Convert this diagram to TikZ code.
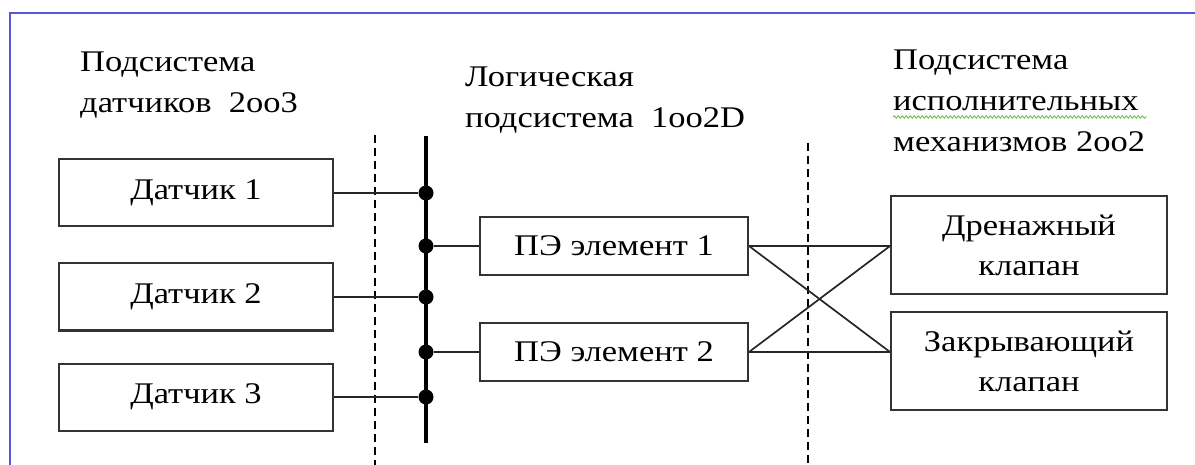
\documentclass[tikz,border=0pt]{standalone}
\usepackage{fontspec}
\setmainfont[FakeStretch=1.15]{Liberation Serif}
\usetikzlibrary{positioning,decorations.pathmorphing}
\definecolor{framecol}{RGB}{85,85,225}
\definecolor{spellcol}{RGB}{110,190,90}

\begin{document}
\begin{tikzpicture}[x=1pt,y=-1pt,
  box/.style={draw=black!80,line width=2pt,align=center,inner sep=0pt,
    font=\fontsize{30}{40}\selectfont},
  sensor/.style={box,minimum width=274pt,minimum height=67pt},
  pe/.style={box,minimum width=268pt,minimum height=58pt},
  valve/.style={box,minimum width=276pt,minimum height=98pt},
  head/.style={anchor=base west,align=left,inner sep=0pt,
    font=\fontsize{30}{41}\selectfont},
  wire/.style={line width=1.7pt,draw=black!85},
  bus/.style={line width=3.8pt},
  sep/.style={line width=1.6pt,dash pattern=on 8pt off 5pt},
  dot/.style={circle,fill=black,inner sep=0pt,minimum size=15pt}]
  \useasboundingbox (0,0) rectangle (1195,465);
  \draw[framecol,line width=2.5pt] (10,470) |- (1200,13);

  % headings (anchored on the last line)
  \node[head] (lhead) at (80,113) {Подсистема\\датчиков~~2oo3};
  \node[head] (mhead) at (465,128) {Логическая\\подсистема~~1oo2D};
  \node[head] (rhead) at (893,152) {Подсистема\\исполнительных\\механизмов 2oo2};
  \draw[spellcol,line width=0.9pt,decorate,
    decoration={snake,amplitude=1.3pt,segment length=4pt}] (893,117) -- (1147,117);

  % boxes
  \node[sensor] (s1) at (196,193) {Датчик 1};
  \node[sensor,below=35pt of s1] (s2) {Датчик 2};
  \node[sensor,below=31pt of s2] (s3) {Датчик 3};
  \node[pe] (pe1) at (614,246) {ПЭ элемент 1};
  \node[pe,below=46pt of pe1] (pe2) {ПЭ элемент 2};
  \node[valve] (drain) at (1029,245) {Дренажный\\клапан};
  \node[valve,below=16pt of drain] (close) {Закрывающий\\клапан};

  % separators
  \coordinate (sepa) at (375,135);
  \coordinate (sepb) at (808,143);
  \draw[sep] (sepa) -- (sepa |- 0,465);
  \draw[sep] (sepb) -- (sepb |- 0,465);

  % bus with junctions
  \coordinate (bustop) at (426,136);
  \coordinate (busbot) at (426,443);
  \draw[bus] (bustop) -- (busbot);
  \node[dot] (j1) at (bustop |- s1) {};
  \node[dot] (j2) at (bustop |- pe1) {};
  \node[dot] (j3) at (bustop |- s2) {};
  \node[dot] (j4) at (bustop |- pe2) {};
  \node[dot] (j5) at (bustop |- s3) {};
  \draw[wire] (s1) -- (j1);
  \draw[wire] (s2) -- (j3);
  \draw[wire] (s3) -- (j5);
  \draw[wire] (j2) -- (pe1);
  \draw[wire] (j4) -- (pe2);

  % cross links to the valves
  \coordinate (din) at (drain.west |- pe1.east);
  \coordinate (cin) at (close.west |- pe2.east);
  \draw[wire] (pe1.east) -- (din);
  \draw[wire] (pe1.east) -- (cin);
  \draw[wire] (pe2.east) -- (cin);
  \draw[wire] (pe2.east) -- (din);
\end{tikzpicture}
\end{document}
